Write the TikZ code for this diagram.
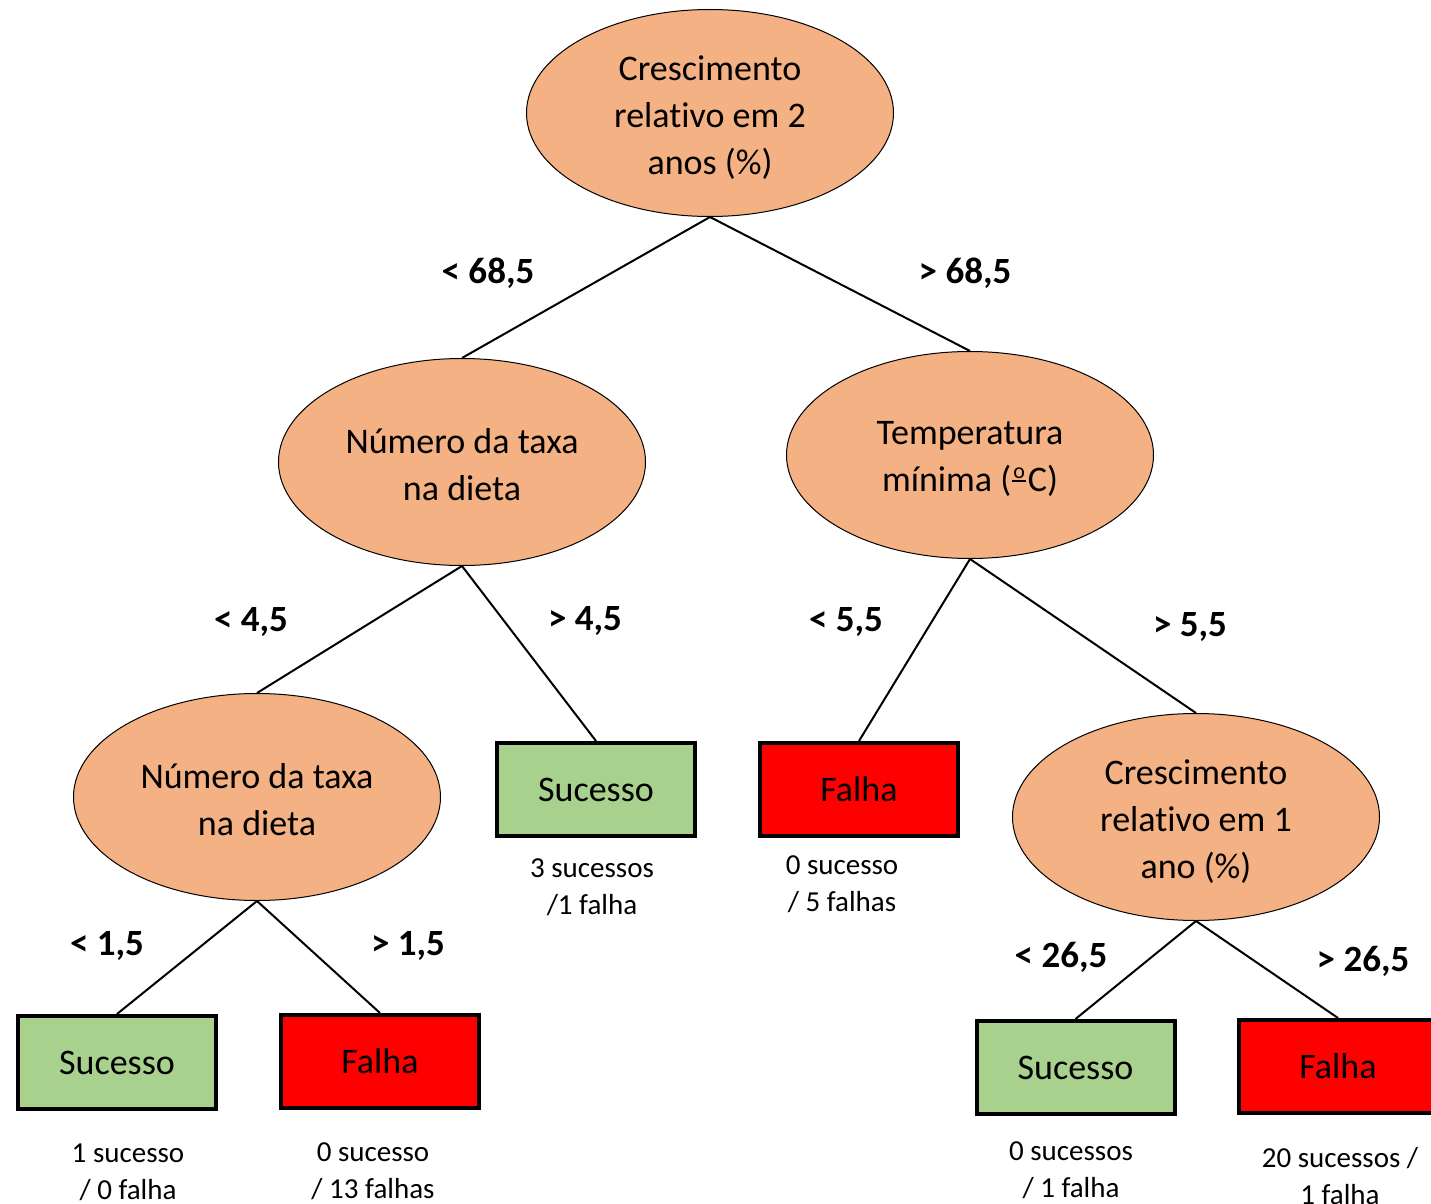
\documentclass[tikz,border=0pt]{standalone}
\usepackage{fontspec}
\setmainfont{Carlito}[Ligatures=NoCommon]
\usetikzlibrary{shapes.geometric}
\definecolor{splitfill}{HTML}{F4B183}
\definecolor{okfill}{HTML}{A9D18E}
\definecolor{failfill}{HTML}{FF0000}
% masculine ordinal indicator with its underline
\newcommand{\ordmark}{\raisebox{0.27em}{\makebox[0.44em]{\rule{0.38em}{0.06em}}}\hspace{-0.44em}\raisebox{0.37em}{\makebox[0.44em]{\fontsize{11}{11}\selectfont o}}\hspace{0.02em}}
\tikzset{
  splitnode/.style={ellipse, draw=black, line width=0.5pt, fill=splitfill,
    minimum width=183.5pt, minimum height=103.5pt, inner sep=0pt},
  splittext/.style={align=center, inner sep=0pt,
    font=\fontsize{18}{23.5}\selectfont},
  leafbox/.style={rectangle, draw=black, line width=2pt,
    minimum width=99pt, minimum height=46.5pt, inner sep=0pt,
    font=\fontsize{18}{22}\selectfont},
  okleaf/.style={leafbox, fill=okfill},
  failleaf/.style={leafbox, fill=failfill},
  branch/.style={draw=black, line width=1pt},
  cut/.style={font=\bfseries\fontsize{18.5}{22}\selectfont},
  tally/.style={align=center, font=\fontsize{14.5}{18.5}\selectfont}
}
\begin{document}
\begin{tikzpicture}[x=0.5pt, y=-0.5pt]
\useasboundingbox (0,0) rectangle (1431,1204);
\clip (0,0) rectangle (1431,1204);

% split nodes
\node[splitnode] (root) at (710,113) {};
\node[splitnode] (taxa1) at (462,462) {};
\node[splitnode] (temp) at (970,455) {};
\node[splitnode] (taxa2) at (257,797) {};
\node[splitnode] (cresc1) at (1196,817) {};
\node[splittext] (rootlbl) at ([yshift=-2.5pt]root.center) {Crescimento\\relativo em 2\\anos (\%)};
\node[splittext] (taxa1lbl) at ([yshift=-1.5pt]taxa1.center) {Número da taxa\\na dieta};
\node[splittext] (templbl) at ([yshift=-2pt]temp.center) {Temperatura\\mínima (\ordmark C)};
\node[splittext] (taxa2lbl) at ([yshift=-1.5pt]taxa2.center) {Número da taxa\\na dieta};
\node[splittext] (cresc1lbl) at ([yshift=-2.5pt]cresc1.center) {Crescimento\\relativo em 1\\ano (\%)};

% leaves
\node[okleaf] (s1) at (596,789.5) {\raisebox{-1pt}{Sucesso}};
\node[failleaf] (f1) at (859,789.5) {\raisebox{-1pt}{Falha}};
\node[okleaf] (s2) at (117,1062.5) {\raisebox{-1pt}{Sucesso}};
\node[failleaf] (f2) at (380,1061.5) {\raisebox{-1pt}{Falha}};
\node[okleaf] (s3) at (1075.5,1067.5) {\raisebox{-1pt}{Sucesso}};
\node[failleaf] (f3) at (1338,1066.5) {\raisebox{-1pt}{Falha}};

% branches
\draw[branch] (root.south) -- (taxa1.north);
\draw[branch] (root.south) -- (temp.north);
\draw[branch] (taxa1.south) -- (taxa2.north);
\draw[branch] (taxa1.south) -- (s1.north);
\draw[branch] (temp.south) -- (f1.north);
\draw[branch] (temp.south) -- (cresc1.north);
\draw[branch] (taxa2.south) -- (s2.north);
\draw[branch] (taxa2.south) -- (f2.north);
\draw[branch] (cresc1.south) -- (s3.north);
\draw[branch] (cresc1.south) -- (f3.north);

% thresholds
\node[cut] (c1) at (488,273) {< 68,5};
\node[cut] (c2) at (965,273) {> 68,5};
\node[cut] (c3) at (251,622) {< 4,5};
\node[cut] (c4) at (585,621) {> 4,5};
\node[cut] (c5) at (846,622) {< 5,5};
\node[cut] (c6) at (1190,627) {> 5,5};
\node[cut] (c7) at (107,946) {< 1,5};
\node[cut] (c8) at (408,946) {> 1,5};
\node[cut] (c9) at (1061,957) {< 26,5};
\node[cut] (c10) at (1363,961) {> 26,5};

% outcome counts
\node[tally] (t1) at (592,887) {3 sucessos\\/1 falha};
\node[tally] (t2) at (842,884) {0 sucesso\\/ 5 falhas};
\node[tally] (t3) at (128,1172) {1 sucesso\\/ 0 falha};
\node[tally] (t4) at (373,1171) {0 sucesso\\/ 13 falhas};
\node[tally] (t5) at (1071,1170) {0 sucessos\\/ 1 falha};
\node[tally] (t6) at (1340,1176) {20 sucessos /\\1 falha};
\end{tikzpicture}
\end{document}
